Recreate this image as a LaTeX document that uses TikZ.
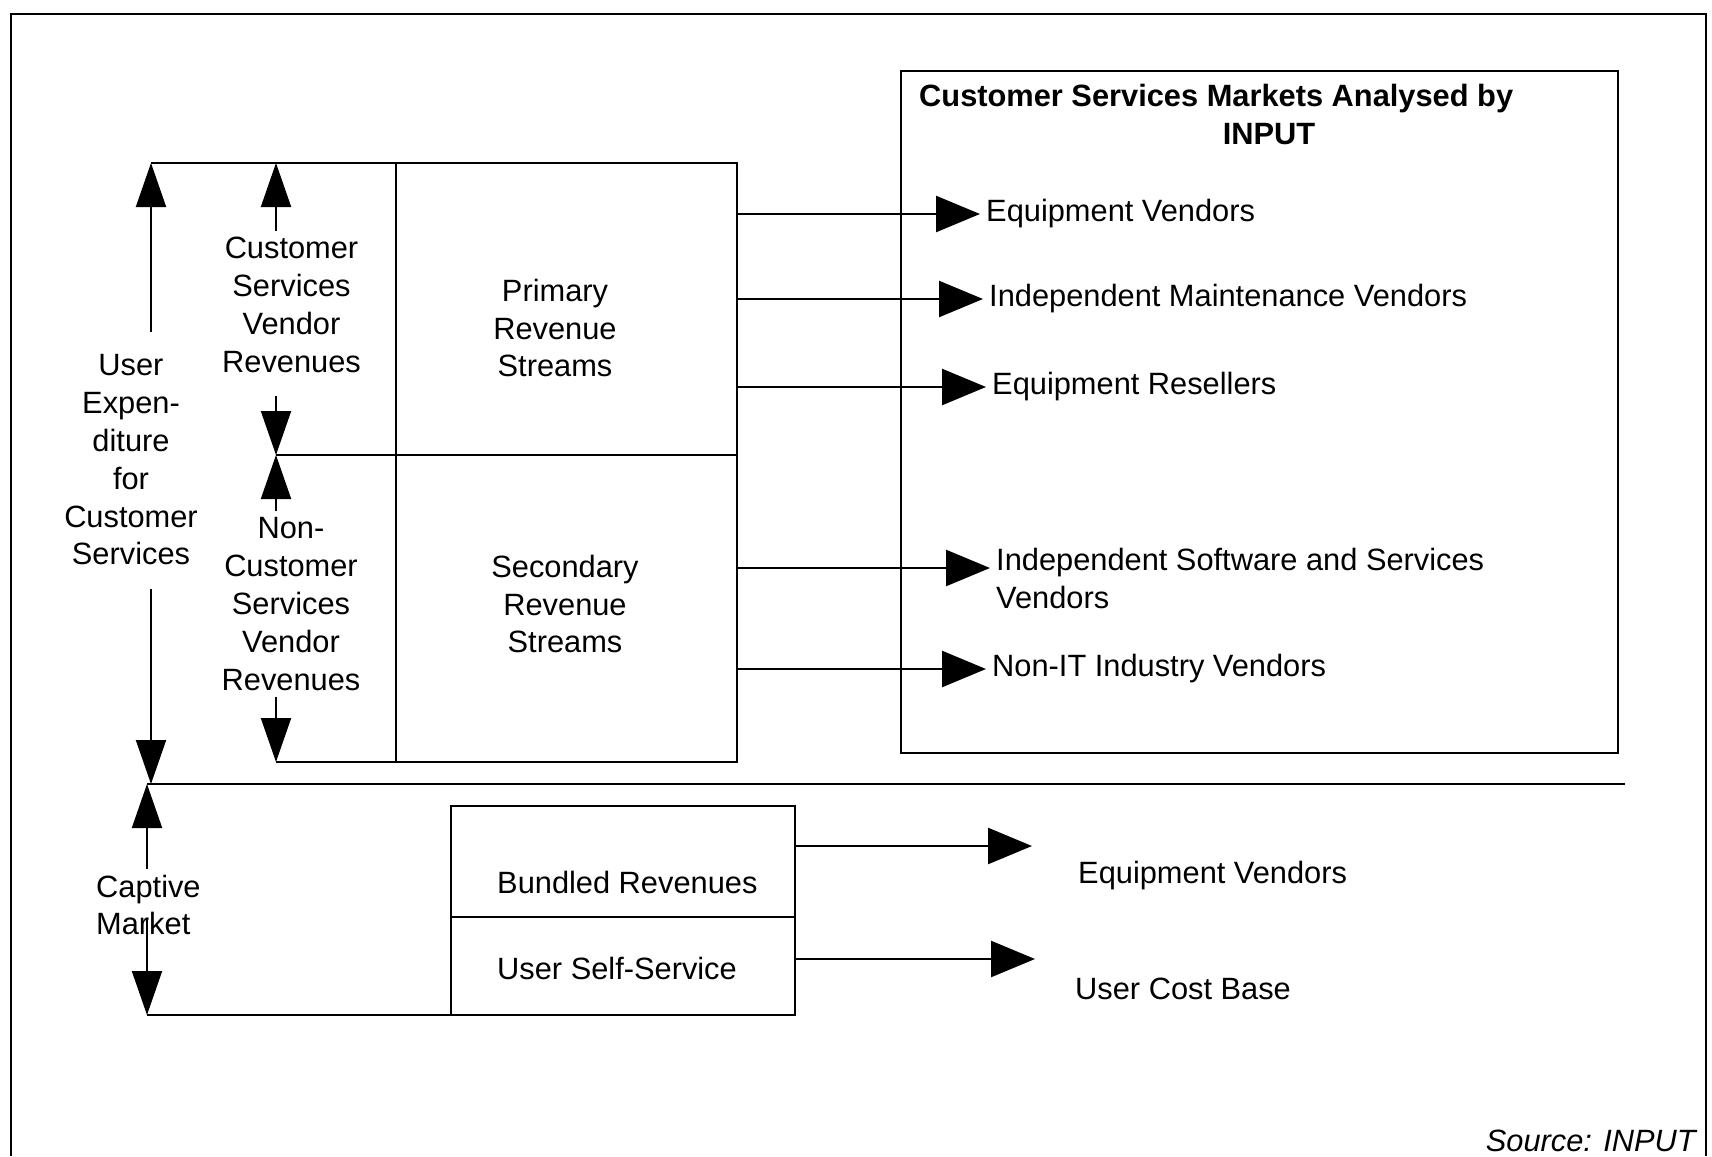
\documentclass[tikz,border=0pt]{standalone}
\usepackage{fontspec}
\setmainfont{Liberation Sans}
\usetikzlibrary{arrows.meta}

\begin{document}
\begin{tikzpicture}[x=1pt,y=-1pt,
    box/.style={draw,line width=2pt,inner sep=0pt},
    lbl/.style={font=\fontsize{30.8}{37.8}\selectfont,inner sep=6pt},
    arr/.style={line width=2.5pt,-{Triangle[length=44pt,width=36pt]}},
    varr/.style={line width=2pt,-{Triangle[length=44pt,width=30pt]}},
    rule/.style={line width=2.5pt}]
  \useasboundingbox (0,0) rectangle (1712,1156);
  \draw[line width=1.8pt] (11,1156) -- (11,14) -- (1706,14) -- (1706,1156);

  % revenue boxes
  \node[box,minimum width=341pt,minimum height=292pt] (primary) at (566.5,309) {};
  \node[box,minimum width=341pt,minimum height=307pt] (secondary) at (566.5,608.5) {};
  \node[lbl,align=center] (primarytxt) at (555,328) {Primary\\Revenue\\Streams};
  \node[lbl,align=center] (secondarytxt) at (565,604) {Secondary\\Revenue\\Streams};

  \node[box,minimum width=344pt,minimum height=111pt] (bundled) at (623,861.5) {};
  \node[box,minimum width=344pt,minimum height=98pt] (selfsvc) at (623,966) {};
  \node[lbl,anchor=west] (bundledtxt) at (491,882) {Bundled Revenues};
  \node[lbl,anchor=west] (selfsvctxt) at (491,968) {User Self-Service};

  % markets box
  \node[box,minimum width=717pt,minimum height=682pt] (mkt) at (1259.5,412) {};
  \node[lbl,anchor=west,font=\fontsize{30.8}{37.8}\selectfont\bfseries] (title) at (913,99) {Customer Services Markets Analysed by};
  \node[lbl,font=\fontsize{30.8}{37.8}\selectfont\bfseries] (titleb) at (1269,134) {INPUT};

  \node[lbl,anchor=west] (eqv) at (980,214) {Equipment Vendors};
  \node[lbl,anchor=west] (imv) at (983,299) {Independent Maintenance Vendors};
  \node[lbl,anchor=west] (eqr) at (986,387) {Equipment Resellers};
  \node[lbl,anchor=north west,align=left] (isv) at (990,542) {Independent Software and Services\\Vendors};
  \node[lbl,anchor=west] (nit) at (986,669) {Non-IT Industry Vendors};
  \coordinate (isva) at ([yshift=-26pt]isv.north west);

  \draw[arr] (primary.east |- eqv.west) -- (eqv.west);
  \draw[arr] (primary.east |- imv.west) -- (imv.west);
  \draw[arr] (primary.east |- eqr.west) -- (eqr.west);
  \draw[arr] (secondary.east |- isva) -- (isva);
  \draw[arr] (secondary.east |- nit.west) -- (nit.west);

  % captive market outputs
  \node[lbl,anchor=west] (eqv2) at (1072,876) {Equipment Vendors};
  \node[lbl,anchor=west] (ucb) at (1069,989) {User Cost Base};
  \coordinate (bv-tip) at (1032,846);
  \coordinate (us-tip) at (1035,959);
  \draw[arr] (bundled.east |- bv-tip) -- (bv-tip);
  \draw[arr] (selfsvc.east |- us-tip) -- (us-tip);

  % left side labels
  \node[lbl,align=center] (uexp) at (131,460) {User\\Expen-\\diture\\for\\Customer\\Services};
  \node[lbl,align=center] (csv) at (291.5,305) {Customer\\Services\\Vendor\\Revenues};
  \node[lbl,align=center] (ncsv) at (291,604) {Non-\\Customer\\Services\\Vendor\\Revenues};
  \node[lbl,anchor=west,align=left] (captive) at (90,905) {Captive\\Market};

  \coordinate (ue-top) at (151,163);
  \coordinate (ue-bot) at (151,784);
  \coordinate (cs-top) at (276,163);
  \coordinate (cs-mid) at (276,455);
  \coordinate (cs-bot) at (276,762);
  \coordinate (cm-bot) at (147,1015);
  \coordinate (longend) at (1625,784);

  \draw[rule] (ue-top) -- (ue-top -| primary.west);
  \draw[rule] (cs-mid) -- (cs-mid -| primary.west);
  \draw[rule] (cs-bot) -- (cs-bot -| secondary.west);
  \draw[rule] (ue-bot -| cm-bot) -- (longend);
  \draw[rule] (cm-bot) -- (cm-bot -| selfsvc.west);

  \draw[varr] ([yshift=17pt]uexp.north -| ue-top) -- (ue-top);
  \draw[varr] ([yshift=-18pt]uexp.south -| ue-bot) -- (ue-bot);
  \draw[varr] (csv.north -| cs-top) -- (cs-top);
  \draw[varr] ([yshift=-17pt]csv.south -| cs-mid) -- (cs-mid);
  \draw[varr] (ncsv.north -| cs-mid) -- (cs-mid);
  \draw[varr] (ncsv.south -| cs-bot) -- (cs-bot);
  \draw[varr] (captive.north -| cm-bot) -- (ue-bot -| cm-bot);
  \draw[varr] ([yshift=-15pt]captive.center -| cm-bot) -- (cm-bot);

  \node[lbl,anchor=east,font=\fontsize{30.8}{37.8}\selectfont\itshape] (source) at (1702,1141) {Source: INPUT};
\end{tikzpicture}
\end{document}
